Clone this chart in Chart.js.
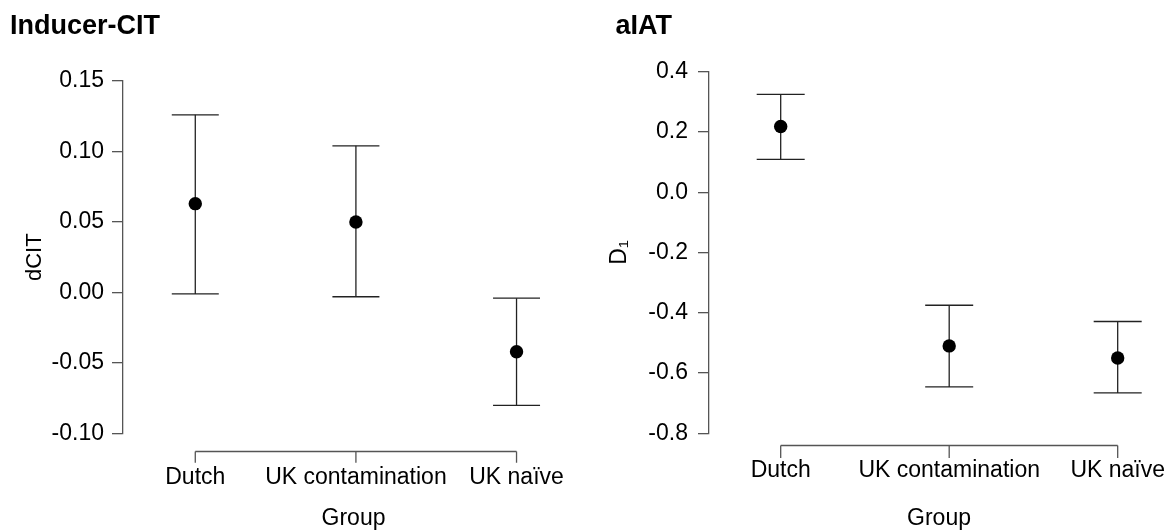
<!DOCTYPE html>
<html>
<head>
<meta charset="utf-8">
<script src="https://cdn.jsdelivr.net/npm/chart.js@4.4.1/dist/chart.umd.min.js"></script>
<style>
  html, body { margin: 0; padding: 0; background: #fff; width: 1169px; height: 532px; overflow: hidden; }
  #left { position: absolute; left: 0; top: 0; }
  #right { position: absolute; left: 584px; top: 0; }
</style>
</head>
<body>
<canvas id="left" width="584" height="532"></canvas>
<canvas id="right" width="585" height="532"></canvas>
<script>
// ---- data ----
const categories = ['Dutch', 'UK contamination', 'UK naïve'];

const citMean  = [0.063, 0.050, -0.042];
const citUpper = [0.126, 0.104, -0.004];
const citLower = [-0.001, -0.003, -0.080];
const citTicks = [-0.10, -0.05, 0.00, 0.05, 0.10, 0.15];

const iatMean  = [0.218, -0.510, -0.550];
const iatUpper = [0.325, -0.375, -0.429];
const iatLower = [0.109, -0.646, -0.666];
const iatTicks = [-0.8, -0.6, -0.4, -0.2, 0.0, 0.2, 0.4];

// ---- setup ----
Chart.defaults.font.family = "'Liberation Sans', Arial, sans-serif";
Chart.defaults.color = '#000';

const AXIS = '#555';
const BAR = '#222';

const groupAxis = {
  id: 'groupAxis',
  afterDraw(chart, args, opts) {
    const xs = chart.scales.x, ca = chart.chartArea, ctx = chart.ctx;
    const y = Math.round(ca.bottom + opts.offset) + 0.5;
    const first = xs.getPixelForValue(xs.ticks[0].value);
    const last = xs.getPixelForValue(xs.ticks[xs.ticks.length - 1].value);
    ctx.save();
    ctx.strokeStyle = AXIS;
    ctx.lineWidth = 1.3;
    ctx.beginPath();
    ctx.moveTo(first, y);
    ctx.lineTo(last, y);
    xs.ticks.forEach(t => {
      const px = xs.getPixelForValue(t.value);
      ctx.moveTo(px, y);
      ctx.lineTo(px, y + opts.tickLength);
    });
    ctx.stroke();
    ctx.restore();
  }
};

function makeDatasets(mean, lower, upper, capR) {
  const bars = [];
  categories.forEach((c, i) => {
    bars.push({x: i, y: lower[i]}, {x: i, y: upper[i]}, {x: i, y: null});
  });
  return [
    {
      label: 'mean',
      data: mean.map((v, i) => ({x: i, y: v})),
      showLine: false,
      pointStyle: 'circle',
      pointRadius: 6.7,
      pointBackgroundColor: '#000',
      pointBorderColor: '#000',
      pointBorderWidth: 0
    },
    {
      label: 'ci',
      data: bars,
      showLine: true,
      spanGaps: false,
      borderColor: BAR,
      borderWidth: 1.3,
      pointStyle: 'line',
      pointRadius: capR,
      pointBorderColor: BAR,
      pointBorderWidth: 1.3,
      pointBackgroundColor: BAR
    }
  ];
}

function makeChart(id, cfg) {
  return new Chart(document.getElementById(id), {
    type: 'scatter',
    data: { datasets: makeDatasets(cfg.mean, cfg.lower, cfg.upper, cfg.capR) },
    plugins: [groupAxis],
    options: {
      responsive: false,
      animation: false,
      events: [],
      layout: { autoPadding: false, padding: { left: cfg.padLeft, right: 0, top: 0, bottom: 0 } },
      plugins: {
        legend: { display: false },
        tooltip: { enabled: false },
        title: {
          display: true,
          text: cfg.title,
          align: 'start',
          color: '#000',
          font: { size: 27, weight: 'bold' },
          padding: { top: 10.4, bottom: cfg.titleBottom }
        },
        groupAxis: { offset: cfg.axOffset, tickLength: cfg.axTick }
      },
      scales: {
        x: {
          type: 'linear',
          min: cfg.xMin,
          max: cfg.xMax,
          afterBuildTicks: s => { s.ticks = categories.map((c, i) => ({ value: i })); },
          afterFit: s => { s.height = cfg.xHeight; s.paddingLeft = 0; s.paddingRight = 0; },
          ticks: {
            callback: v => categories[v],
            font: { size: 23 },
            color: '#000',
            padding: cfg.xPad,
            autoSkip: false,
            minRotation: 0,
            maxRotation: 0
          },
          grid: { display: false, drawTicks: false },
          border: { display: false },
          title: { display: true, text: 'Group', font: { size: 23 }, color: '#000', padding: { top: 0, bottom: 0 } }
        },
        y: {
          type: 'linear',
          min: cfg.yMin,
          max: cfg.yMax,
          afterBuildTicks: s => { s.ticks = cfg.ticks.map(v => ({ value: v })); },
          afterFit: s => { s.width = cfg.yWidth; },
          ticks: {
            callback: v => v.toFixed(cfg.decimals),
            font: { size: 23 },
            color: '#000',
            padding: cfg.yPad
          },
          grid: { display: true, drawOnChartArea: false, drawTicks: true, tickLength: 11, color: AXIS, lineWidth: 1.3 },
          border: { display: true, color: AXIS, width: 1.3 },
          title: { display: true, text: cfg.yTitle, font: { size: cfg.yTitleSize }, color: '#000', padding: { top: cfg.yTitlePad, bottom: 0 } }
        }
      }
    }
  });
}

makeChart('left', {
  title: 'Inducer-CIT', yTitle: 'dCIT', yTitleSize: 22, yTitlePad: 12,
  mean: citMean, lower: citLower, upper: citUpper, ticks: citTicks, decimals: 2,
  yMin: -0.10, yMax: 0.15, xMin: -0.45, xMax: 2.42,
  padLeft: 10, yWidth: 113, yPad: 8, titleBottom: 38.2, xHeight: 98.5, xPad: 30,
  axOffset: 17.5, axTick: 11.3, capR: 23.5
});

makeChart('right', {
  title: 'aIAT', yTitle: 'D\u2081', yTitleSize: 23, yTitlePad: -10,
  mean: iatMean, lower: iatLower, upper: iatUpper, ticks: iatTicks, decimals: 1,
  yMin: -0.8, yMax: 0.4, xMin: -0.4255, xMax: 2.3045,
  padLeft: 31.5, yWidth: 93.5, yPad: 10, titleBottom: 28.9, xHeight: 98.7, xPad: 23.7,
  axOffset: 11.2, axTick: 12.5, capR: 24
});
</script>
</body>
</html>
